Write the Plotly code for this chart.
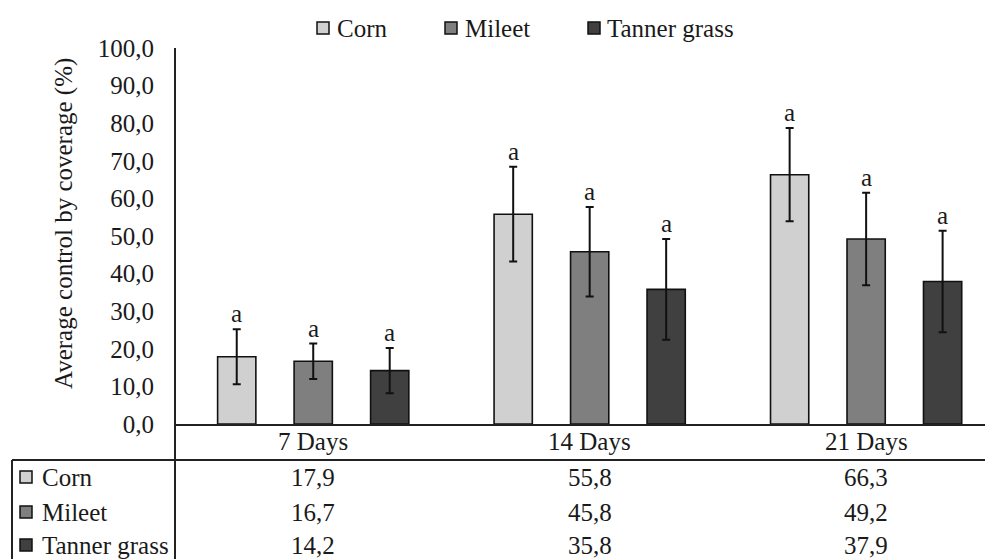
import plotly.graph_objects as go

# ---- data ----
categories = ["7 Days", "14 Days", "21 Days"]
series_names = ["Corn", "Mileet", "Tanner grass"]
corn = [17.9, 55.8, 66.3]
mileet = [16.7, 45.8, 49.2]
tanner = [14.2, 35.8, 37.9]
err_corn = [7.3, 12.6, 12.4]
err_mileet = [4.7, 11.9, 12.3]
err_tanner = [6.0, 13.4, 13.5]
letters_corn = ["a", "a", "a"]
letters_mileet = ["a", "a", "a"]
letters_tanner = ["a", "a", "a"]
y_ticks = [0, 10, 20, 30, 40, 50, 60, 70, 80, 90, 100]

values = [corn, mileet, tanner]
errors = [err_corn, err_mileet, err_tanner]
letters = [letters_corn, letters_mileet, letters_tanner]
colors = ["#d0d0d0", "#7f7f7f", "#404040"]

# ---- layout geometry ----
W, H = 985, 559
L, R, T, B = 175, 0, 48, 135
PW, PH = W - L - R, H - T - B
FONT = "'Liberation Serif', 'Times New Roman', 'DejaVu Serif', serif"
FS = 25
TXT = "#1a1a1a"
BARGAP = 0.17


def px(x):
    return (x - L) / PW


def py(y):
    return (H - B - y) / PH


fig = go.Figure()
for name, vals, errs, col in zip(series_names, values, errors, colors):
    fig.add_trace(go.Bar(
        name=name, x=categories, y=vals,
        marker=dict(color=col, line=dict(color="#111111", width=1.6)),
        error_y=dict(type="data", array=errs, visible=True,
                     color="#111111", thickness=2, width=4),
        showlegend=False,
    ))

annotations = []
shapes = []

# significance letters above error bars
slot = (1 - BARGAP) / 3
for k, (vals, errs, lets) in enumerate(zip(values, errors, letters)):
    for i in range(len(categories)):
        annotations.append(dict(
            x=i + (k - 1) * slot, y=vals[i] + errs[i], xref="x", yref="y",
            text=lets[i], showarrow=False, yanchor="bottom", yshift=0,
            font=dict(family=FONT, size=FS, color=TXT)))

# category labels (x axis)
for i, c in enumerate(categories):
    annotations.append(dict(x=i, y=py(441), xref="x", yref="paper",
                            text=c, showarrow=False, xanchor="center", yanchor="middle",
                            font=dict(family=FONT, size=FS, color=TXT)))

# top legend
leg_sq = [323, 451, 594]
leg_tx = [335, 463, 605]
for name, col, sx, tx in zip(series_names, colors, leg_sq, leg_tx):
    shapes.append(dict(type="rect", xref="paper", yref="paper",
                       x0=px(sx - 6), x1=px(sx + 6), y0=py(28 + 6), y1=py(28 - 6),
                       fillcolor=col, line=dict(color="#111111", width=1.5)))
    annotations.append(dict(x=px(tx), y=py(28), xref="paper", yref="paper",
                            text=name, showarrow=False, xanchor="left", yanchor="middle",
                            font=dict(family=FONT, size=FS, color=TXT)))

# data table
row_y = [477, 512, 545]
for name, col, vals, ry in zip(series_names, colors, values, row_y):
    shapes.append(dict(type="rect", xref="paper", yref="paper",
                       x0=px(26 - 6), x1=px(26 + 6), y0=py(ry + 6), y1=py(ry - 6),
                       fillcolor=col, line=dict(color="#111111", width=1.5)))
    annotations.append(dict(x=px(40), y=py(ry), xref="paper", yref="paper",
                            text=name, showarrow=False, xanchor="left", yanchor="middle",
                            font=dict(family=FONT, size=FS, color=TXT)))
    for i, v in enumerate(vals):
        annotations.append(dict(x=i, y=py(ry), xref="x", yref="paper",
                                text=f"{v:.1f}".replace(".", ","), showarrow=False,
                                xanchor="center", yanchor="middle",
                                font=dict(family=FONT, size=FS, color=TXT)))

line_style = dict(color="#222222", width=2)
# vertical separator (y axis extended down through table)
shapes.append(dict(type="line", xref="paper", yref="paper",
                   x0=0, x1=0, y0=py(H + 5), y1=1, line=line_style))
# table top line
shapes.append(dict(type="line", xref="paper", yref="paper",
                   x0=px(12), x1=1, y0=py(460), y1=py(460), line=line_style))
# table left border
shapes.append(dict(type="line", xref="paper", yref="paper",
                   x0=px(12), x1=px(12), y0=py(460), y1=py(H + 5), line=line_style))

# y axis title
annotations.append(dict(x=px(64), y=py(224), xref="paper", yref="paper",
                        text="Average control by coverage (%)", textangle=-90,
                        showarrow=False, xanchor="center", yanchor="middle",
                        font=dict(family=FONT, size=FS, color=TXT)))

fig.update_layout(
    width=W, height=H,
    margin=dict(l=L, r=R, t=T, b=B, pad=0),
    paper_bgcolor="white", plot_bgcolor="white",
    barmode="group", bargap=BARGAP, bargroupgap=0.5,
    separators=", ",
    font=dict(family=FONT, size=FS, color=TXT),
    xaxis=dict(type="category", range=[-0.5, 2.43], showline=True,
               linecolor="#222222", linewidth=2, ticks="", showgrid=False,
               zeroline=False, showticklabels=False),
    yaxis=dict(range=[0, 100], tickvals=y_ticks, tickformat=".1f",
               showline=False, ticks="", showgrid=False, zeroline=False,
               tickfont=dict(family=FONT, size=FS, color=TXT),
               ticklabelstandoff=20),
    shapes=shapes,
    annotations=annotations,
)

fig.write_html("out.html",
               config={"displayModeBar": False},
               post_script="document.body.style.margin='0';document.body.style.overflow='hidden';")
